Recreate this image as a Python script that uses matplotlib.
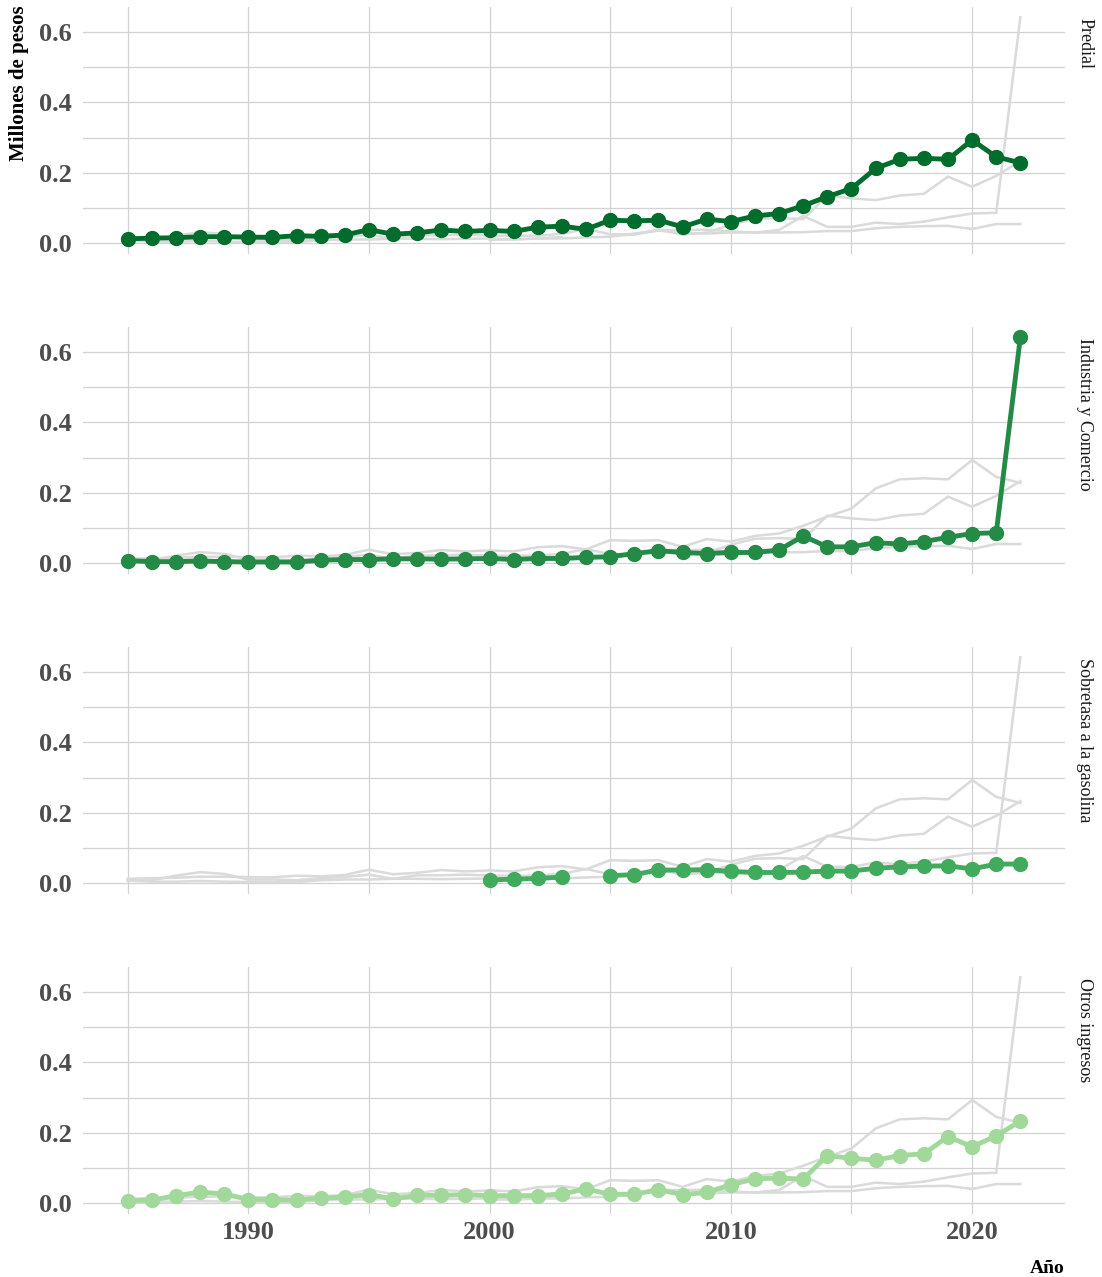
import numpy as np
import matplotlib
matplotlib.use('agg')
import matplotlib.pyplot as plt
from matplotlib.ticker import MultipleLocator

plt.rcParams['font.family'] = ['Liberation Serif', 'DejaVu Serif']

# datos (millones de pesos)
years = np.arange(1985, 2023)

predial = [0.012, 0.014, 0.015, 0.018, 0.018, 0.017, 0.016, 0.021, 0.019, 0.023,
           0.038, 0.025, 0.029, 0.037, 0.033, 0.036, 0.033, 0.045, 0.048, 0.039,
           0.065, 0.063, 0.065, 0.046, 0.068, 0.061, 0.077, 0.084, 0.106, 0.132,
           0.155, 0.212, 0.238, 0.241, 0.238, 0.293, 0.245, 0.228]

industria = [0.007, 0.004, 0.004, 0.006, 0.004, 0.003, 0.003, 0.003, 0.008, 0.010,
             0.010, 0.012, 0.012, 0.011, 0.012, 0.013, 0.010, 0.013, 0.013, 0.016,
             0.018, 0.027, 0.035, 0.030, 0.027, 0.030, 0.030, 0.037, 0.077, 0.046,
             0.046, 0.058, 0.054, 0.061, 0.073, 0.084, 0.086, 0.642]

nan = np.nan
sobretasa = [nan, nan, nan, nan, nan, nan, nan, nan, nan, nan,
             nan, nan, nan, nan, nan, 0.009, 0.011, 0.013, 0.017, nan,
             0.021, 0.024, 0.037, 0.037, 0.038, 0.033, 0.030, 0.030, 0.031, 0.034,
             0.034, 0.042, 0.046, 0.048, 0.049, 0.040, 0.054, 0.054]

otros = [0.007, 0.008, 0.021, 0.031, 0.026, 0.010, 0.010, 0.008, 0.014, 0.017,
         0.024, 0.012, 0.022, 0.022, 0.024, 0.021, 0.021, 0.021, 0.026, 0.040,
         0.025, 0.025, 0.038, 0.024, 0.030, 0.052, 0.069, 0.071, 0.068, 0.135,
         0.127, 0.122, 0.135, 0.140, 0.189, 0.160, 0.191, 0.233]

names = ['Predial', 'Industria y Comercio', 'Sobretasa a la gasolina', 'Otros ingresos']
series = [predial, industria, sobretasa, otros]
colors = ['#006d2c', '#238b45', '#41ab5d', '#a1d99b']

W, H = 1102, 1277
fig = plt.figure(figsize=(W / 100, H / 100), dpi=100)

left, right = 83, 1065
ph = 247.6
for i, (name, vals, col) in enumerate(zip(names, series, colors)):
    bottom = 254.3 + 320 * i
    ax = fig.add_axes([left / W, 1 - bottom / H, (right - left) / W, ph / H])
    ax.set_xlim(1983.15, 2023.85)
    ax.set_ylim(-0.032, 0.672)
    ax.xaxis.set_major_locator(MultipleLocator(10))
    ax.xaxis.set_minor_locator(MultipleLocator(5))
    ax.yaxis.set_major_locator(MultipleLocator(0.2))
    ax.yaxis.set_minor_locator(MultipleLocator(0.1))
    ax.grid(which='both', color='#d2d2d2', lw=0.9)
    ax.set_axisbelow(True)
    for s in ax.spines.values():
        s.set_visible(False)
    ax.tick_params(which='both', length=0)
    ax.tick_params(axis='y', pad=8, labelsize=19, labelcolor='#4d4d4d')
    ax.tick_params(axis='x', pad=5, labelsize=19, labelcolor='#4d4d4d')
    ax.yaxis.set_major_formatter(lambda v, p: f'{v:.1f}')
    if i < 3:
        ax.set_xticklabels([])
    else:
        ax.xaxis.set_major_formatter(lambda v, p: f'{int(v)}')
    for lab in ax.get_xticklabels() + ax.get_yticklabels():
        lab.set_fontweight('bold')

    for other in series:
        ax.plot(years, other, color='#dadada', lw=1.8, zorder=2)
    ax.plot(years, vals, color=col, lw=3.5, marker='o', ms=10, zorder=3)

    top = bottom - ph
    fig.text(1085 / W, 1 - (top + 11) / H, name, rotation=-90, ha='center', va='top',
             fontsize=13, color='#1a1a1a')

fig.text(19 / W, 1 - 5 / H, 'Millones de pesos', rotation=90, ha='center', va='top',
         fontsize=15, fontweight='bold')
fig.text(right / W, 1 - 1273 / H, 'Año', ha='right', va='baseline',
         fontsize=14, fontweight='bold')

plt.savefig('out.png', dpi=100)
